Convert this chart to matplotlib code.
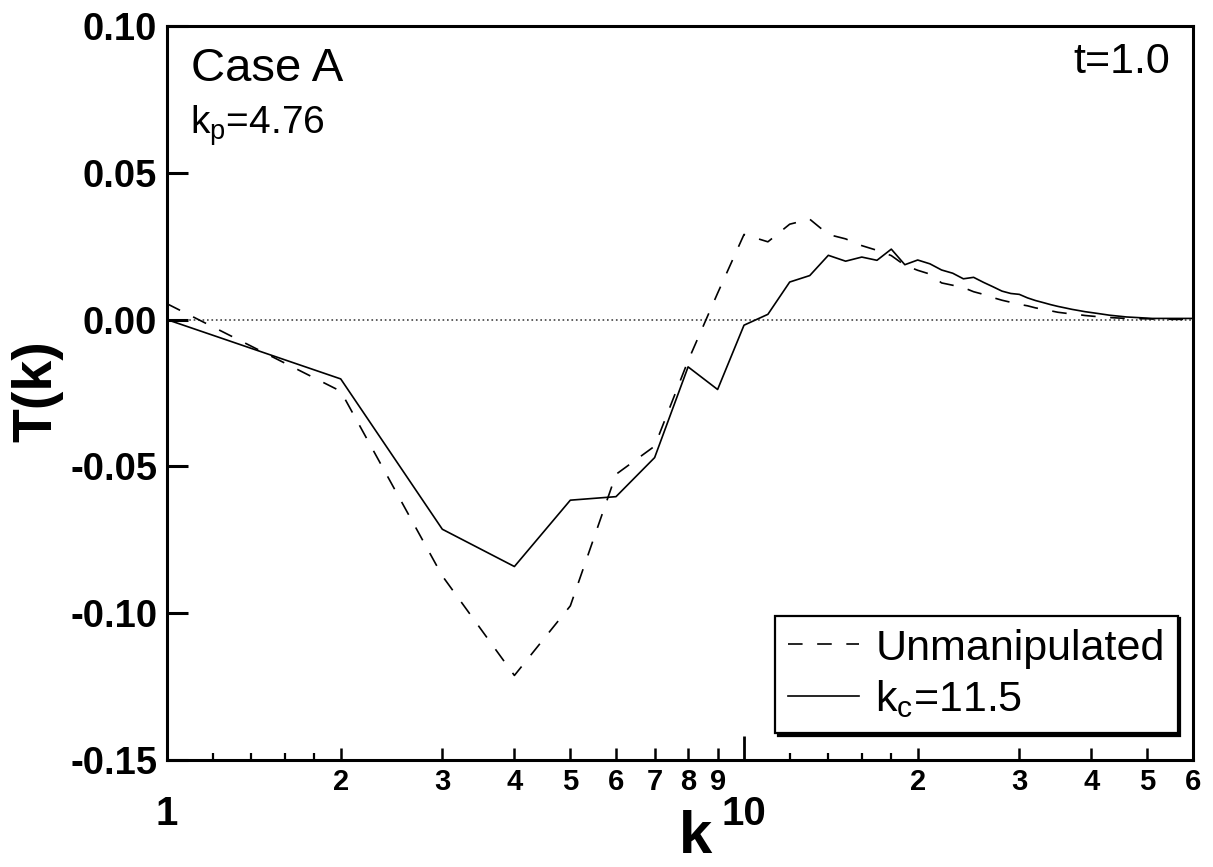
import numpy as np
import matplotlib
matplotlib.use("Agg")
import matplotlib.pyplot as plt

plt.rcParams['font.family'] = ['Liberation Sans', 'DejaVu Sans']
plt.rcParams['lines.scale_dashes'] = False

# === DATA: energy transfer spectrum at t=1.0 ===
k = np.arange(1, 61)

T_unmanip = [
    0.0054, -0.0244, -0.0873, -0.1212, -0.0975, -0.0527, -0.0431, -0.0140, 0.0090, 0.0290,
    0.0265, 0.0325, 0.0342, 0.0290, 0.0275, 0.0252, 0.0236, 0.0218, 0.0185, 0.0168,
    0.0155, 0.0125, 0.0117, 0.0109, 0.0095, 0.0086, 0.0075, 0.0066, 0.0059, 0.0052,
    0.0047, 0.0040, 0.0035, 0.0030, 0.0025, 0.0022, 0.0019, 0.0017, 0.0014, 0.0012,
    0.0010, 0.0008, 0.0007, 0.0006, 0.0005, 0.0004, 0.0004, 0.0003, 0.0003, 0.0003,
    0.0002, 0.0002, 0.0002, 0.0002, 0.0001, 0.0001, 0.0001, 0.0001, 0.0001, 0.0001,
]

T_kc115 = [
    0.0000, -0.0202, -0.0714, -0.0841, -0.0615, -0.0603, -0.0470, -0.0161, -0.0238, -0.0019,
    0.0018, 0.0128, 0.0150, 0.0219, 0.0199, 0.0213, 0.0202, 0.0240, 0.0187, 0.0203,
    0.0190, 0.0169, 0.0158, 0.0139, 0.0144, 0.0127, 0.0112, 0.0097, 0.0089, 0.0086,
    0.0074, 0.0065, 0.0058, 0.0051, 0.0045, 0.0040, 0.0035, 0.0031, 0.0027, 0.0024,
    0.0021, 0.0018, 0.0015, 0.0013, 0.0011, 0.0009, 0.0008, 0.0007, 0.0006, 0.0005,
    0.0004, 0.0004, 0.0004, 0.0004, 0.0004, 0.0004, 0.0004, 0.0004, 0.0004, 0.0004,
]

big_ticks = [1, 10]
small_ticks = [2, 3, 4, 5, 6, 7, 8, 9, 20, 30, 40, 50, 60]
small_labels = ['2', '3', '4', '5', '6', '7', '8', '9', '2', '3', '4', '5', '6']
tiny_ticks = [1.2, 1.4, 1.6, 1.8, 12, 14, 16, 18]
y_ticks = [-0.15, -0.10, -0.05, 0.00, 0.05, 0.10]

# === PLOT ===
fig = plt.figure(figsize=(12.13, 8.67), dpi=100)
ax = fig.add_axes([0.1377, 0.1234, 0.8458, 0.8466])

ax.axhline(0.0, color='#444444', lw=1.2, ls=(0, (1.2, 2.0)), zorder=1)
ax.plot(k, T_unmanip, color='black', lw=1.2, dashes=(10.5, 10.5), label='Unmanipulated')
ax.plot(k, T_kc115, color='black', lw=1.2, label=r'k$_\mathregular{c}$=11.5')

ax.set_xscale('log')
ax.set_xlim(1, 60)
ax.set_ylim(-0.15, 0.10)

for s in ax.spines.values():
    s.set_linewidth(2.2)

ax.set_yticks(y_ticks)
ax.set_yticklabels([f"{v:.2f}" for v in y_ticks], fontsize=27.5, fontweight='bold')
ax.tick_params(axis='y', direction='in', length=15, width=2.2, pad=7)

ax.set_xticks(big_ticks)
ax.set_xticklabels(['1', '10'], fontsize=29, fontweight='bold')
ax.set_xticks(small_ticks, minor=True)
ax.set_xticklabels(small_labels, minor=True, fontsize=21, fontweight='bold',
                   family=['Liberation Sans Narrow', 'Liberation Sans'])
ax.tick_params(axis='x', which='major', direction='in', length=17, width=2.0, pad=25)
ax.tick_params(axis='x', which='minor', direction='in', length=9, width=1.8, pad=5.5)

# short ticks between 1-2 and 10-20
tw = ax.twiny()
tw.set_xscale('log')
tw.set_xlim(ax.get_xlim())
tw.xaxis.set_ticks_position('bottom')
tw.set_xticks(tiny_ticks)
tw.set_xticklabels([])
tw.xaxis.set_minor_locator(matplotlib.ticker.NullLocator())
tw.tick_params(axis='x', direction='in', length=5, width=1.6)
for s in tw.spines.values():
    s.set_visible(False)

ax.text(0.023, 0.972, 'Case A', transform=ax.transAxes, fontsize=34,
        va='top', ha='left')
ax.text(0.022, 0.895, r'k$_\mathregular{p}$=4.76', transform=ax.transAxes, fontsize=28,
        va='top', ha='left')
ax.text(0.978, 0.978, 't=1.0', transform=ax.transAxes, fontsize=31,
        va='top', ha='right')

fig.text(0.031, 0.549, 'T(k)', rotation=90, fontsize=40, fontweight='bold',
         ha='center', va='center')
fig.text(0.573, 0.002, 'k', fontsize=43, fontweight='bold', ha='center', va='bottom')

leg = ax.legend(loc='lower right', bbox_to_anchor=(0.985, 0.037), fontsize=31,
                frameon=True, fancybox=False, edgecolor='black', framealpha=1,
                shadow={'color': 'black', 'alpha': 1.0},
                handlelength=1.65, handletextpad=0.38, borderpad=0.3,
                labelspacing=0.22, borderaxespad=0)
leg.get_frame().set_linewidth(1.6)

fig.savefig('out.png', dpi=100)
